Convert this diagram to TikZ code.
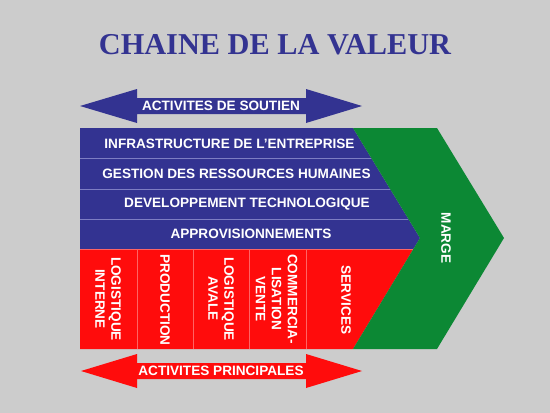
\documentclass[tikz,border=0pt]{standalone}
\usepackage{fontspec}
\setmainfont{Liberation Serif}
\setsansfont{Liberation Sans}
\usepackage{tikz}
\usetikzlibrary{calc,positioning}
\definecolor{fond}{RGB}{204,204,204}
\definecolor{bleu}{RGB}{51,51,145}
\definecolor{rouge}{RGB}{255,12,12}
\definecolor{vert}{RGB}{12,136,52}
\definecolor{traitbleu}{RGB}{125,125,195}
\definecolor{traitrouge}{RGB}{255,100,100}
\tikzset{%
  % Specifications for style of nodes:
  label/.style = {text=white, inner sep=0pt,
    font=\sffamily\bfseries\fontsize{13.6}{16}\selectfont},
  support/.style = {label},
  primary/.style = {label, rotate=-90, align=center},
  title/.style = {text=bleu, inner sep=0pt,
    font=\rmfamily\bfseries\fontsize{30.3}{34}\selectfont},
}

\begin{document}
\begin{tikzpicture}[x=1pt,y=-1pt]
        \fill[fond] (0,0) rectangle (550,413);
        \useasboundingbox (0,0) rectangle (550,413);
        % Title
        \node(Title)[title] at (275,45) {CHAINE DE LA VALEUR};
        % Arrows
        \fill[bleu] (80,106) -- (137,89) -- (137,98) -- (306,98) -- (306,89) -- (362,106)
          -- (306,123) -- (306,114) -- (137,114) -- (137,123) -- cycle;
        \fill[rouge] (81,371) -- (137,354) -- (137,363) -- (306,363) -- (306,354) -- (362,371)
          -- (306,388) -- (306,379) -- (137,379) -- (137,388) -- cycle;
        % Blocks
        \fill[bleu] (80,128) -- (353,128) -- (420,238) -- (413.4,249) -- (80,249) -- cycle;
        \fill[rouge] (80,249) -- (413.4,249) -- (353,349) -- (80,349) -- cycle;
        \fill[vert] (353,128) -- (437,128) -- (504,238) -- (437,349) -- (353,349) -- (420,238) -- cycle;
        \draw[traitbleu] (80,158) -- (371.3,158);
        \draw[traitbleu] (80,189) -- (390.2,189);
        \draw[traitbleu] (80,219) -- (408.4,219);
        \draw[traitrouge] (80,249) -- (413.4,249);
        \foreach \x in {137,193,249,306}
          \draw[traitrouge] (\x,249) -- (\x,349);
        % Specification of nodes (position, etc.)
        \node(Soutien)[label] at (221,106) {ACTIVITES DE SOUTIEN};
        \node(Princ)[label] at (221,371) {ACTIVITES PRINCIPALES};
        \node(Infra)[support] at (229.5,143.5) {INFRASTRUCTURE DE L’ENTREPRISE};
        \node(GRH)[support] at (236.5,173.5) {GESTION DES RESSOURCES HUMAINES};
        \node(Tech)[support] at (247,204) {DEVELOPPEMENT TECHNOLOGIQUE};
        \node(Appro)[support] at (251,234) {APPROVISIONNEMENTS};
        \node(LogIn)[primary] at (108,299) {LOGISTIQUE\\INTERNE};
        \node(Prod)[primary] at (165,300) {PRODUCTION};
        \node(LogAv)[primary] at (221,299) {LOGISTIQUE\\AVALE};
        \node(Comm)[primary] at (276.5,299) {COMMERCIA-\\LISATION\\VENTE};
        \node(Serv)[primary] at (346,300) {SERVICES};
        \node(Marge)[primary] at (446,238) {MARGE};
    \end{tikzpicture}
\end{document}
